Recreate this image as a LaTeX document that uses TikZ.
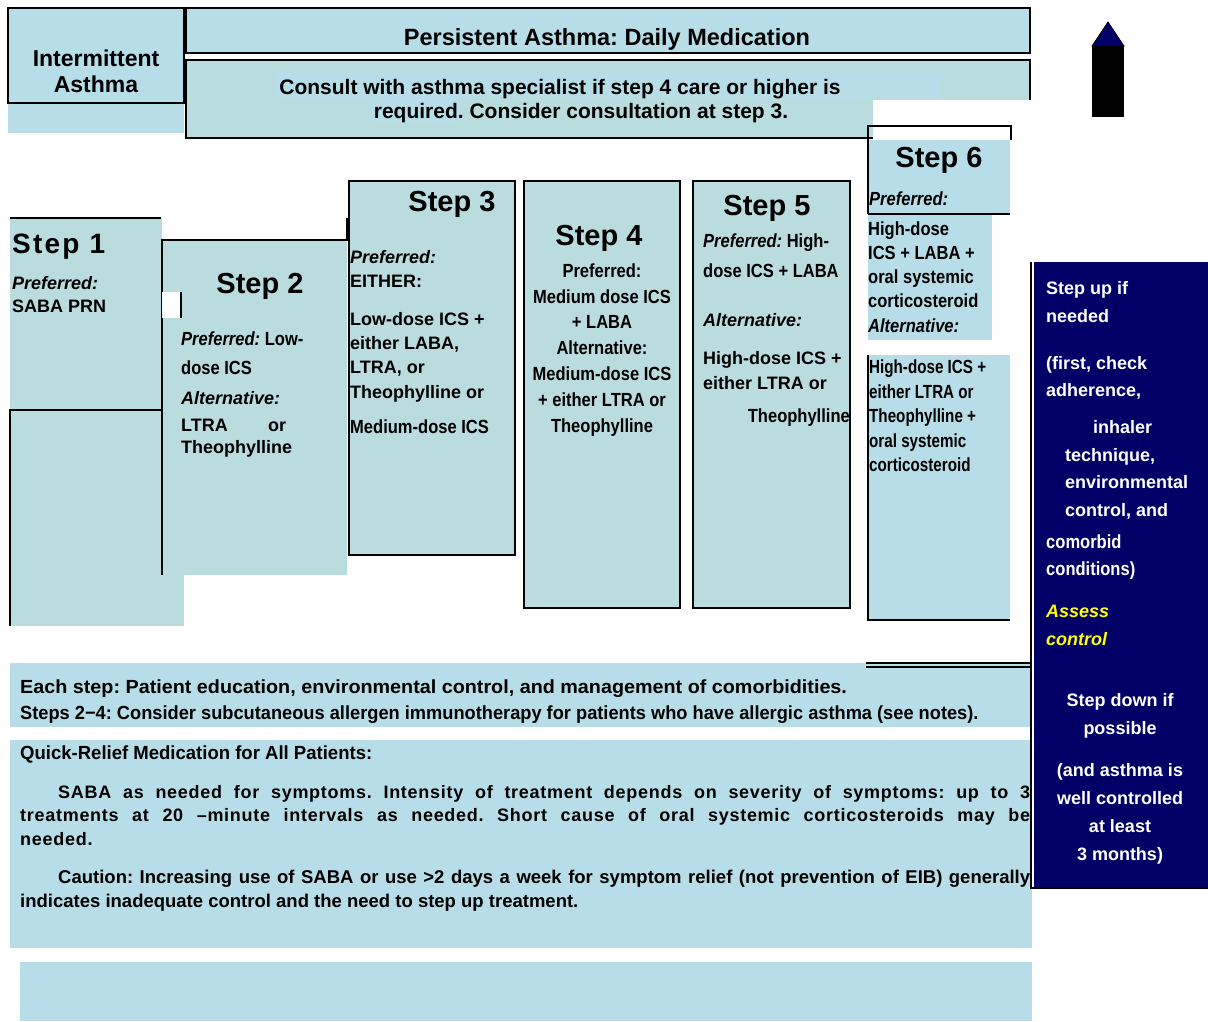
\documentclass[tikz,border=0pt]{standalone}
\usepackage{fontspec}
\setmainfont{Liberation Sans}
\newfontfamily\narrowfont{Liberation Sans}[FakeStretch=0.87]
\newfontfamily\tightfont{Liberation Sans}[FakeStretch=0.8]
\definecolor{stepfill}{RGB}{186,220,223}
\definecolor{hdrfill}{RGB}{183,221,232}
\definecolor{consultfill}{RGB}{185,220,222}
\definecolor{navybar}{RGB}{0,0,102}
\definecolor{assessyellow}{RGB}{255,255,0}
\newcommand{\txtsize}[1]{\fontsize{#1}{#1}\selectfont}
\usepackage{tikz}
\frenchspacing

\tikzset{
  box/.style={draw=black, line width=1.5pt},
  lbl/.style={inner sep=0pt, anchor=mid west, yshift=-4.5pt, font=\bfseries\txtsize{18}},
  nlbl/.style={lbl, font=\narrowfont\bfseries\txtsize{19}},
  tlbl/.style={lbl, font=\tightfont\bfseries\txtsize{19}},
  clbl/.style={lbl, anchor=mid},
  biglbl/.style={clbl, yshift=-1.5pt},
  steptitle/.style={inner sep=0pt, anchor=mid, yshift=-7pt, font=\bfseries\txtsize{29}},
  wlbl/.style={lbl, text=white},
  notelbl/.style={lbl, font=\bfseries\txtsize{19}},
}

\begin{document}
\begin{tikzpicture}[x=1pt, y=-1pt]
  \useasboundingbox (0,0) rectangle (1208,1021);

  % header row
  \fill[hdrfill] (8,103) rectangle (184,133);
  \draw[box, fill=hdrfill] (8,8) rectangle (184,103);
  \node[biglbl, font=\bfseries\txtsize{23}] (intA) at (96,58) {Intermittent};
  \node[biglbl, font=\bfseries\txtsize{23}] (intB) at (96,84) {Asthma};
  \draw[box, fill=hdrfill] (186,8) rectangle (1030,53);
  \node[biglbl, font=\bfseries\txtsize{23.5}] (hdr) at (607,37) {Persistent Asthma: Daily Medication};
  \fill[consultfill] (186,60) rectangle (1030,138);
  \fill[white] (873,100) rectangle (1032,140);
  \fill[hdrfill] (275,73) rectangle (942,98);
  \fill[hdrfill] (370,98) rectangle (462,122);
  \draw[box] (1030,100) -- (1030,60) -- (186,60) -- (186,138) -- (873,138);
  \node[biglbl, font=\bfseries\txtsize{21}] (cons1) at (560,86) {Consult with asthma specialist if step 4 care or higher is};
  \node[biglbl, font=\bfseries\txtsize{21}] (cons2) at (581,110) {required. Consider consultation at step 3.};

  % step up arrow
  \fill[black] (1092,46) rectangle (1124,117);
  \draw[fill=navybar, line width=0.8pt] (1092,46) -- (1108,22) -- (1124,46) -- cycle;

  % step 1
  \fill[stepfill] (10,218) rectangle (162,410);
  \fill[stepfill] (10,410) rectangle (184,626);
  \draw[box] (10,218) -- (161,218);
  \draw[box] (10,626) -- (10,410) -- (162,410);
  \node[lbl, yshift=-2.5pt, font=\bfseries\txtsize{28}\addfontfeature{LetterSpace=8}] (s1t) at (12,244) {Step 1};
  \node[lbl] (s1a) at (12,282) {\itshape Preferred:};
  \node[lbl] (s1b) at (12,305) {SABA PRN};

  % step 2
  \fill[stepfill] (162,240) rectangle (347,575);
  \draw[box] (162,575) -- (162,240) -- (347,240) -- (347,218);
  \fill[white] (162,292) rectangle (180,318);
  \draw[box] (181,292) -- (181,318);
  \node[steptitle] (s2t) at (260,284) {Step 2};
  \node[nlbl] (s2a) at (181,338) {{\itshape Preferred:} Low-};
  \node[nlbl] (s2b) at (181,367) {dose ICS};
  \node[lbl] (s2c) at (181,397) {\itshape Alternative:};
  \node[lbl] (s2d) at (181,424) {\makebox[105pt][s]{LTRA or}};
  \node[lbl] (s2e) at (181,446) {Theophylline};

  % step 3
  \draw[box, fill=stepfill] (349,181) rectangle (515,555);
  \node[steptitle] (s3t) at (452,202) {Step 3};
  \node[lbl] (s3a) at (350,256) {\itshape Preferred:};
  \node[lbl] (s3b) at (350,280) {EITHER:};
  \node[lbl] (s3c) at (350,318) {Low-dose ICS +};
  \node[lbl] (s3d) at (350,342) {either LABA,};
  \node[lbl] (s3e) at (350,366) {LTRA, or};
  \node[lbl] (s3f) at (350,391) {Theophylline or};
  \node[nlbl] (s3g) at (350,426) {Medium-dose ICS};

  % step 4
  \draw[box, fill=stepfill] (524,181) rectangle (680,608);
  \node[steptitle] (s4t) at (599,236) {Step 4};
  \node[nlbl, anchor=mid] (s4a) at (602,270) {Preferred:};
  \node[nlbl, anchor=mid] (s4b) at (602,296) {Medium dose ICS};
  \node[nlbl, anchor=mid] (s4c) at (602,321) {+ LABA};
  \node[nlbl, anchor=mid] (s4d) at (602,347) {Alternative:};
  \node[nlbl, anchor=mid] (s4e) at (602,373) {Medium-dose ICS};
  \node[nlbl, anchor=mid] (s4f) at (602,399) {+ either LTRA or};
  \node[nlbl, anchor=mid] (s4g) at (602,425) {Theophylline};

  % step 5
  \draw[box, fill=stepfill] (693,181) rectangle (850,608);
  \node[steptitle] (s5t) at (767,206) {Step 5};
  \node[nlbl] (s5a) at (703,240) {{\itshape Preferred:} High-};
  \node[nlbl] (s5b) at (703,270) {dose ICS + LABA};
  \node[lbl] (s5c) at (703,319) {\itshape Alternative:};
  \node[lbl] (s5d) at (703,357) {High-dose ICS +};
  \node[lbl] (s5e) at (703,382) {either LTRA or};
  \node[nlbl, anchor=mid east] (s5f) at (850,415) {Theophylline};

  % step 6
  \fill[hdrfill] (868,140) rectangle (1010,214);
  \draw[box] (868,214) -- (868,126) -- (1011,126) -- (1011,140);
  \draw[box] (868,214) -- (1010,214);
  \fill[hdrfill] (868,215) rectangle (992,340);
  \fill[hdrfill] (868,355) rectangle (1010,620);
  \draw[box, line width=2.5pt] (868,355) -- (868,620) -- (1010,620);
  \node[steptitle] (s6t) at (939,158) {Step 6};
  \node[nlbl] (s6a) at (869,198) {\itshape Preferred:};
  \node[nlbl] (s6b) at (868,228) {High-dose};
  \node[nlbl] (s6c) at (868,252) {ICS + LABA +};
  \node[nlbl] (s6d) at (868,276) {oral systemic};
  \node[nlbl] (s6e) at (868,300) {corticosteroid};
  \node[nlbl] (s6f) at (868,325) {\itshape Alternative:};
  \node[tlbl] (s6g) at (869,366) {High-dose ICS +};
  \node[tlbl] (s6h) at (869,391) {either LTRA or};
  \node[tlbl] (s6i) at (869,415) {Theophylline +};
  \node[tlbl] (s6j) at (869,440) {oral systemic};
  \node[tlbl] (s6k) at (869,464) {corticosteroid};

  % notes below the steps
  \fill[hdrfill] (10,663) rectangle (1032,727);
  \node[notelbl] (eachA) at (20,686) {\scalebox{1.04}[1]{Each step: Patient education, environmental control, and management of comorbidities.}};
  \node[notelbl] (eachB) at (20,712) {\scalebox{0.96}[1]{Steps 2−4: Consider subcutaneous allergen immunotherapy for patients who have allergic asthma (see notes).}};
  \fill[hdrfill] (10,740) rectangle (1032,948);
  \node[notelbl] (qr) at (20,752) {\scalebox{0.975}[1]{Quick-Relief Medication for All Patients:}};
  \node[lbl, font=\bfseries\txtsize{18}\addfontfeature{LetterSpace=4}] (saba1) at (58,791) {\makebox[972pt][s]{SABA as needed for symptoms. Intensity of treatment depends on severity of symptoms: up to 3}};
  \node[lbl, font=\bfseries\txtsize{18}\addfontfeature{LetterSpace=4}] (saba2) at (20,814) {\makebox[1010pt][s]{treatments at 20 –minute intervals as needed. Short cause of oral systemic corticosteroids may be}};
  \node[lbl, font=\bfseries\txtsize{18}\addfontfeature{LetterSpace=4}] (saba3) at (20,838) {needed.};
  \node[lbl, font=\bfseries\txtsize{18.5}] (caut1) at (58,876) {\makebox[972pt][s]{Caution: Increasing use of SABA or use >2 days a week for symptom relief (not prevention of EIB) generally}};
  \node[lbl, font=\bfseries\txtsize{18.5}] (caut2) at (20,900) {indicates inadequate control and the need to step up treatment.};
  \fill[hdrfill] (20,962) rectangle (1032,1021);

  % step up / step down panel
  \fill[navybar] (1034,262) rectangle (1208,888);
  \draw[box] (1031,262) -- (1031,888) -- (1208,888);
  \draw[line width=1.2pt] (866,663) -- (1031,663);
  \draw[line width=1.2pt] (866,667) -- (1031,667);
  \node[wlbl] (up1) at (1046,287) {Step up if};
  \node[wlbl] (up2) at (1046,315) {needed};
  \node[wlbl] (up3) at (1046,362) {(first, check};
  \node[wlbl] (up4) at (1046,389) {adherence,};
  \node[wlbl] (up5) at (1093,426) {inhaler};
  \node[wlbl] (up6) at (1065,454) {technique,};
  \node[wlbl] (up7) at (1065,481) {environmental};
  \node[wlbl] (up8) at (1065,509) {control, and};
  \node[nlbl, text=white] (up9) at (1046,541) {comorbid};
  \node[nlbl, text=white] (up10) at (1046,568) {conditions)};
  \node[lbl, text=assessyellow] (ass1) at (1046,610) {\itshape Assess};
  \node[lbl, text=assessyellow] (ass2) at (1046,638) {\itshape control};
  \node[wlbl, anchor=mid] (dn1) at (1120,699) {Step down if};
  \node[wlbl, anchor=mid] (dn2) at (1120,727) {possible};
  \node[wlbl, anchor=mid] (dn3) at (1120,769) {(and asthma is};
  \node[wlbl, anchor=mid] (dn4) at (1120,797) {well controlled};
  \node[wlbl, anchor=mid] (dn5) at (1120,825) {at least};
  \node[wlbl, anchor=mid] (dn6) at (1120,853) {3 months)};
\end{tikzpicture}
\end{document}
